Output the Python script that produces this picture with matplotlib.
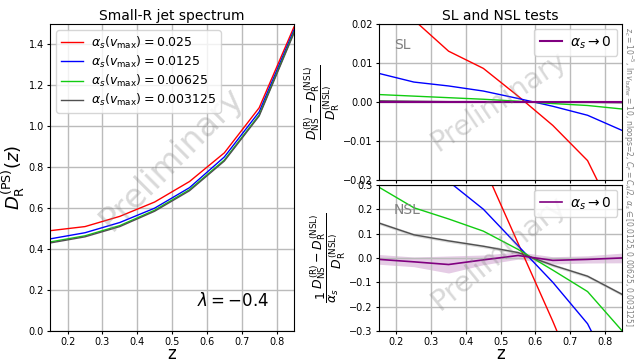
import numpy as np
import matplotlib
matplotlib.use('Agg')
import matplotlib.pyplot as plt

z = [0.15, 0.25, 0.35, 0.45, 0.55, 0.65, 0.75, 0.85]
labels = [r'$\alpha_s(v_{\max}) = 0.025$', r'$\alpha_s(v_{\max}) = 0.0125$',
          r'$\alpha_s(v_{\max}) = 0.00625$', r'$\alpha_s(v_{\max}) = 0.003125$']
colors = ['red', 'blue', '#11cc11', '#505050']

# left panel: D_R^(PS)(z)
ps_red = [0.49, 0.51, 0.56, 0.63, 0.73, 0.87, 1.09, 1.485]
ps_blue = [0.45, 0.48, 0.53, 0.60, 0.70, 0.85, 1.07, 1.47]
ps_green = [0.435, 0.465, 0.515, 0.59, 0.69, 0.835, 1.055, 1.46]
ps_grey = [0.43, 0.46, 0.51, 0.585, 0.685, 0.83, 1.05, 1.455]

# SL test
sl_red = [0.030, 0.021, 0.013, 0.0086, 0.0015, -0.006, -0.015, -0.033]
sl_blue = [0.0073, 0.0051, 0.0041, 0.0028, 0.0009, -0.0011, -0.0034, -0.0073]
sl_green = [0.0019, 0.0015, 0.0011, 0.0007, 0.0002, -0.0004, -0.0009, -0.0018]
sl_grey = [0.0003, 0.0002, 0.0001, 0.0001, 0.0, -0.0001, -0.0001, -0.0002]
sl_lim = [0.0, 0.0, 0.0, 0.0, 0.0, 0.0, 0.0, 0.0]
sl_lim_err = [0.0003, 0.0003, 0.0003, 0.0003, 0.0003, 0.0003, 0.0003, 0.0003]

# NSL test
nsl_red = [1.2, 0.9, 0.65, 0.38, 0.06, -0.26, -0.6, -0.95]
nsl_blue = [0.55, 0.42, 0.314, 0.20, 0.05, -0.10, -0.27, -0.55]
nsl_green = [0.29, 0.206, 0.16, 0.11, 0.035, -0.05, -0.138, -0.30]
nsl_grey = [0.143, 0.095, 0.07, 0.048, 0.022, -0.03, -0.075, -0.15]
nsl_grey_err = [0.006, 0.006, 0.006, 0.006, 0.006, 0.006, 0.006, 0.006]
nsl_lim = [-0.006, -0.016, -0.027, -0.008, 0.01, -0.01, -0.006, 0.0]
nsl_lim_err = [0.02, 0.02, 0.035, 0.02, 0.015, 0.015, 0.015, 0.02]

fig = plt.figure(figsize=(6.35, 3.61), dpi=100)
ax = fig.add_axes([0.079, 0.083, 0.384, 0.851])
ax1 = fig.add_axes([0.597, 0.501, 0.383, 0.433])
ax2 = fig.add_axes([0.597, 0.083, 0.383, 0.405])

for ys, c, lab in zip([ps_red, ps_blue, ps_green, ps_grey], colors, labels):
    ax.plot(z, ys, color=c, lw=1, label=lab)
ax.set_xlim(0.15, 0.85)
ax.set_ylim(0, 1.5)
ax.set_xticks([0.2, 0.3, 0.4, 0.5, 0.6, 0.7, 0.8])
ax.grid(True, color='#bbbbbb', lw=1)
ax.tick_params(labelsize=7, length=2.5, pad=2)
ax.set_xlabel('z', fontsize=12, labelpad=-1.5)
ax.set_ylabel(r'$D_{\rm R}^{\rm (PS)}(z)$', fontsize=13, labelpad=1)
ax.set_title('Small-R jet spectrum', fontsize=10, pad=3)
ax.legend(loc='upper left', fontsize=9, handlelength=1.8, handletextpad=0.6,
          borderaxespad=0.5, borderpad=0.35, labelspacing=0.25)
ax.text(0.9, 0.07, r'$\lambda = -0.4$', transform=ax.transAxes, fontsize=12,
        ha='right', va='bottom')
ax.text(0.50, 0.56, 'Preliminary', transform=ax.transAxes, fontsize=24,
        color='grey', alpha=0.3, rotation=45, ha='center', va='center')

for ys, c in zip([sl_red, sl_blue, sl_green, sl_grey], colors):
    ax1.plot(z, ys, color=c, lw=1)
ax1.fill_between(z, np.array(sl_lim) - np.array(sl_lim_err), np.array(sl_lim) + np.array(sl_lim_err),
                 color='purple', alpha=0.2, lw=0)
ax1.plot(z, sl_lim, color='purple', lw=1.5, label=r'$\alpha_s \to 0$')
ax1.set_xlim(0.15, 0.85)
ax1.set_ylim(-0.02, 0.02)
ax1.set_xticks([0.2, 0.3, 0.4, 0.5, 0.6, 0.7, 0.8])
ax1.set_yticks([-0.02, -0.01, 0.0, 0.01, 0.02])
ax1.set_xticklabels([])
ax1.grid(True, color='#bbbbbb', lw=1)
ax1.tick_params(labelsize=7, length=2.5, pad=2)
ax1.set_ylabel(r'$\dfrac{D_{\rm NS}^{\rm (R)} - D_{\rm R}^{\rm (NSL)}}{D_{\rm R}^{\rm (NSL)}}$',
               fontsize=9, labelpad=1)
ax1.set_title('SL and NSL tests', fontsize=10, pad=3)
ax1.legend(loc='upper right', fontsize=10, handlelength=1.6, handletextpad=0.6,
           borderpad=0.4, borderaxespad=0.35)
ax1.text(0.06, 0.84, 'SL', transform=ax1.transAxes, fontsize=10, color='grey')
ax1.text(0.49, 0.50, 'Preliminary', transform=ax1.transAxes, fontsize=20,
         color='grey', alpha=0.3, rotation=34, ha='center', va='center')

ax2.fill_between(z, np.array(nsl_grey) - np.array(nsl_grey_err), np.array(nsl_grey) + np.array(nsl_grey_err),
                 color='grey', alpha=0.3, lw=0)
for ys, c in zip([nsl_red, nsl_blue, nsl_green, nsl_grey], colors):
    ax2.plot(z, ys, color=c, lw=1)
ax2.fill_between(z, np.array(nsl_lim) - np.array(nsl_lim_err), np.array(nsl_lim) + np.array(nsl_lim_err),
                 color='purple', alpha=0.2, lw=0)
ax2.plot(z, nsl_lim, color='purple', lw=1.2, label=r'$\alpha_s \to 0$')
ax2.set_xlim(0.15, 0.85)
ax2.set_ylim(-0.3, 0.3)
ax2.set_xticks([0.2, 0.3, 0.4, 0.5, 0.6, 0.7, 0.8])
ax2.grid(True, color='#bbbbbb', lw=1)
ax2.tick_params(labelsize=7, length=2.5, pad=2)
ax2.set_xlabel('z', fontsize=12, labelpad=-1.5)
ax2.set_ylabel(r'$\dfrac{1}{\alpha_s}\dfrac{D_{\rm NS}^{\rm (R)} - D_{\rm R}^{\rm (NSL)}}{D_{\rm R}^{\rm (NSL)}}$',
               fontsize=9, labelpad=1)
ax2.legend(loc='upper right', fontsize=10, handlelength=1.6, handletextpad=0.6,
           borderpad=0.4, borderaxespad=0.35)
ax2.text(0.06, 0.80, 'NSL', transform=ax2.transAxes, fontsize=10, color='grey')
ax2.text(0.49, 0.53, 'Preliminary', transform=ax2.transAxes, fontsize=21,
         color='grey', alpha=0.3, rotation=39, ha='center', va='center')

fig.text(0.99, 0.51, r'$z_c = 10^{-5}$, $\ln v_{\rm buffer} = 10$, nloops=2, $C_F = C_A/2$, '
         r'$\alpha_s \in [0.0125, 0.00625, 0.003125]$',
         rotation=-90, fontsize=5.5, color='grey', ha='center', va='center')

fig.savefig('out.png', dpi=100)
